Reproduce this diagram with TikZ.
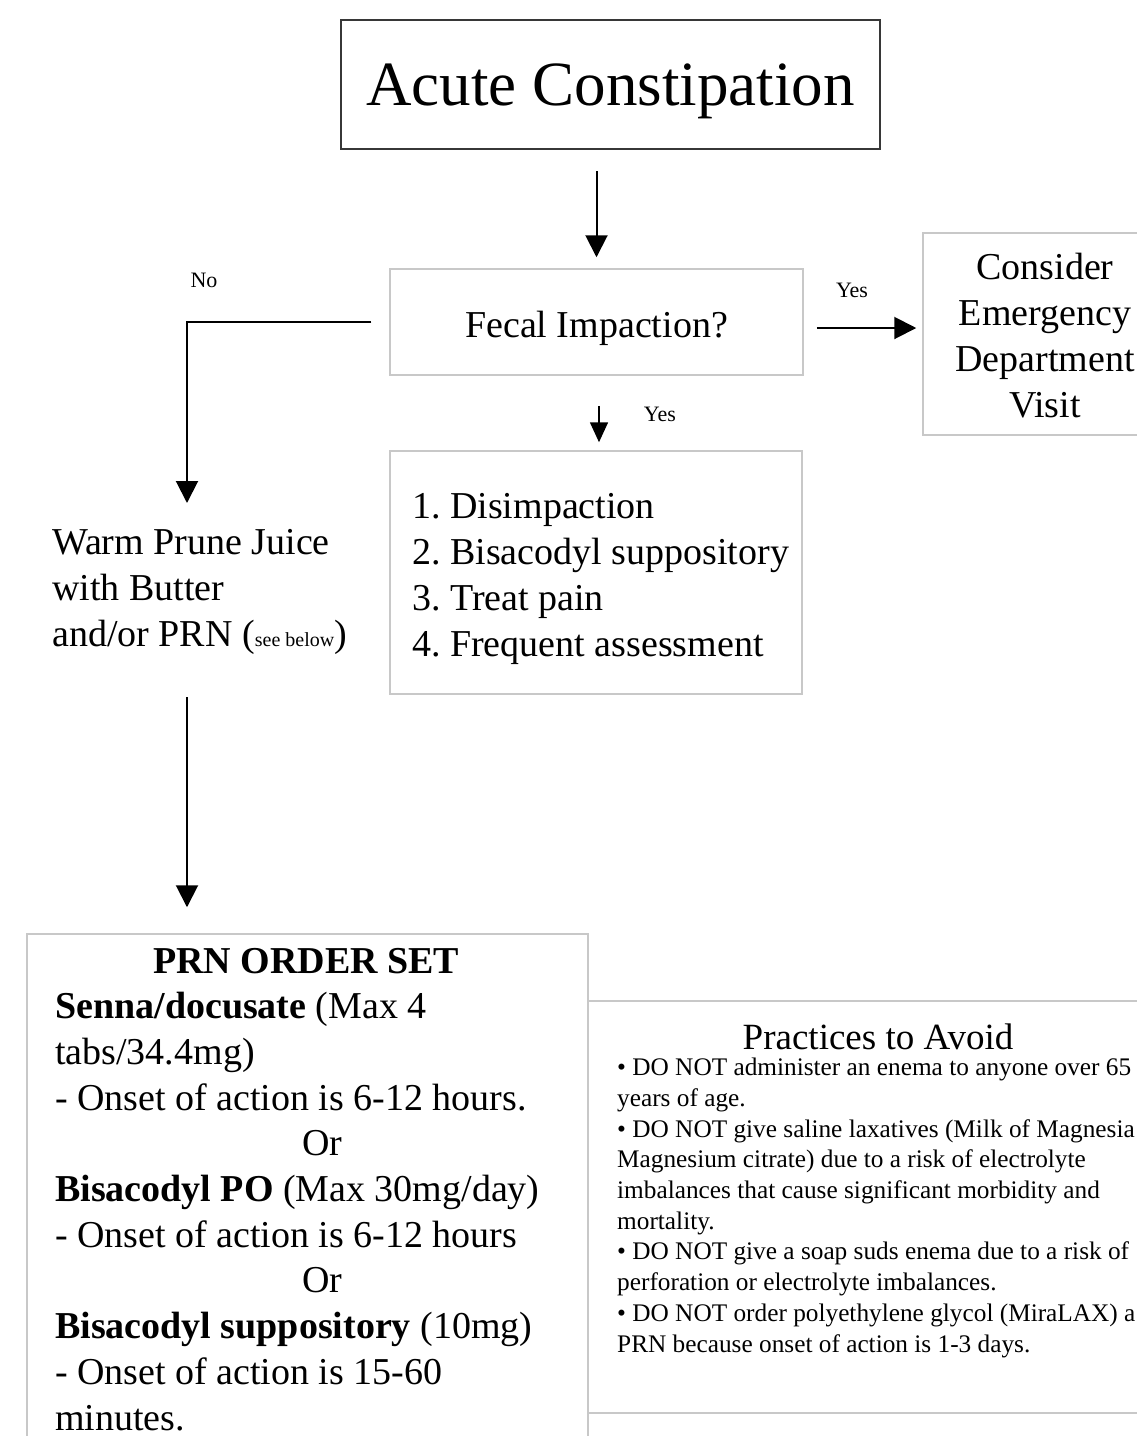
\documentclass[tikz,border=0pt]{standalone}
\usepackage{fontspec}
\setmainfont{Liberation Serif}
\usetikzlibrary{arrows.meta,calc}
\definecolor{boxgray}{RGB}{200,200,200}
\definecolor{darkbox}{RGB}{55,55,55}
\newcommand{\myfs}[2]{\fontsize{#1}{#2}\selectfont}
\frenchspacing
\begin{document}
\begin{tikzpicture}[x=1pt,y=-1pt,
  arr/.style={line width=2pt,-{Triangle[width=22pt,length=22pt]}},
  sarr/.style={line width=1.6pt,-{Triangle[width=18pt,length=20pt]}},
  lbox/.style={draw=boxgray,line width=1.5pt,inner sep=0pt},
  lbl/.style={font=\myfs{22}{26},inner sep=0pt},
  body/.style={font=\myfs{38}{45.7},inner sep=0pt},
  small/.style={font=\myfs{25.3}{30.7},inner sep=0pt}
]
\useasboundingbox (0,0) rectangle (1136,1436);
\fill[white] (0,0) rectangle (1136,1436);

% boxes
\node[draw=darkbox,line width=2pt,minimum width=539pt,minimum height=129pt,inner sep=0pt,
      font=\myfs{63}{70},text height=41pt,text depth=0pt] (acute) at (610.5,84.5) {Acute Constipation};
\node[lbox,minimum width=413pt,minimum height=106pt,body,text height=30pt,text depth=0pt] (fecal) at (596.5,322) {Fecal Impaction?};
\node[lbox,minimum width=247pt,minimum height=202pt] (consider) at (1046.5,334) {};
\node[body,align=center,anchor=base] (considertxt) at (1045,417) {Consider\\Emergency\\Department\\Visit};
\node[lbox,minimum width=412pt,minimum height=243pt] (treat) at (596,572.5) {};
\node[body,align=left,anchor=base west] (treattxt) at (412,656) {1. Disimpaction\\2. Bisacodyl suppository\\3. Treat pain\\4. Frequent assessment};
\node[body,align=left,anchor=base west] (warm) at (52,646) {Warm Prune Juice\\with Butter\\and/or PRN ({\myfs{20}{24}see below})};
\node[lbox,minimum width=561pt,minimum height=526pt] (prn) at (307.5,1197) {};
\node[body,align=left,anchor=base west] (prntxt) at (55,1430) {\hspace*{98pt}\textbf{PRN ORDER SET}\\
\textbf{Senna/docusate} (Max 4\\
tabs/34.4mg)\\
- Onset of action is 6-12 hours.\\
\hspace*{247pt}Or\\
\textbf{Bisacodyl PO} (Max 30mg/day)\\
- Onset of action is 6-12 hours\\
\hspace*{247pt}Or\\
\textbf{Bisacodyl suppository} (10mg)\\
- Onset of action is 15-60\\
minutes.};
\node[lbox,minimum width=572pt,minimum height=412pt] (avoid) at (874,1207) {};
\node[font=\myfs{37}{44},inner sep=0pt,anchor=base,text depth=0pt] (avoidtitle) at (878,1049) {Practices to Avoid};
\node[small,align=left,anchor=base west] (avoidtxt) at (617,1352) {• DO NOT administer an enema to anyone over 65\\
years of age.\\
• DO NOT give saline laxatives (Milk of Magnesia\\
Magnesium citrate) due to a risk of electrolyte\\
imbalances that cause significant morbidity and\\
mortality.\\
• DO NOT give a soap suds enema due to a risk of\\
perforation or electrolyte imbalances.\\
• DO NOT order polyethylene glycol (MiraLAX) a\\
PRN because onset of action is 1-3 days.};

% labels
\node[lbl] (nolbl) at (204,280) {No};
\node[lbl] (yes1) at (852,290) {Yes};
\node[lbl] (yes2) at (660,414) {Yes};

% connectors
\coordinate (notip) at (187,503);
\draw[arr] ($(acute.south -| fecal.north)+(0,21)$) -- ($(fecal.north)+(0,-11)$);
\draw[arr] ($(fecal.east)+(13,6)$) -- ($(fecal.east -| consider.west)+(-6,6)$);
\draw[sarr] ($(fecal.south)+(2.5,30)$) -- ($(treat.north)+(3,-8)$);
\draw[arr] ($(fecal.west)+(-18,0)$) -| (notip);
\draw[arr] ($(warm.south -| notip)+(0,43)$) -- ($(prn.north -| notip)+(0,-26)$);
\end{tikzpicture}
\end{document}
